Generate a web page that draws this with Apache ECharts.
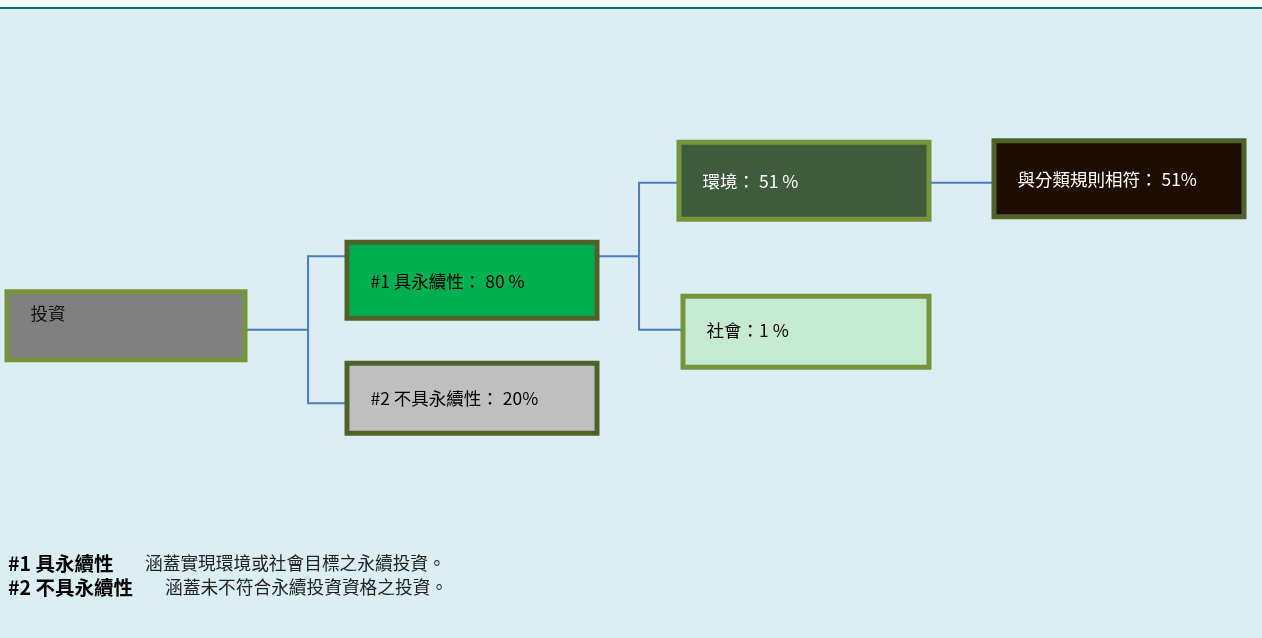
<!DOCTYPE html>
<html>
<head>
<meta charset="utf-8">
<script src="https://cdn.jsdelivr.net/npm/echarts@6/dist/echarts.min.js"></script>
<style>
html,body{margin:0;padding:0;background:#ffffff;}
#chart{width:1262px;height:638px;}
</style>
</head>
<body>
<div id="chart"></div>
<script>
// ---- data ----
const nodeNames = ['投資', '#1 具永續性', '#2 不具永續性', '環境', '社會', '與分類規則相符'];
const nodeShares = [null, 80, 20, 51, 1, 51];
const nodeParents = [-1, 0, 0, 1, 1, 3];
const noteTitles = ['#1 具永續性', '#2 不具永續性'];
const noteTexts = ['涵蓋實現環境或社會目標之永續投資。', '涵蓋未不符合永續投資資格之投資。'];

// ---- styles (per node, by index) ----
const FONT = '"Noto Sans CJK TC", "Noto Sans CJK SC", sans-serif';
const nodeStyles = [
  {fill: '#808080', border: '#77933c', text: '#111111', size: [233, 63], offset: [0, -4], pad: [0, 24], fmt: '{n}'},
  {fill: '#00b050', border: '#4f6228', text: '#000000', size: [245, 71], offset: [15, 24], pad: [2, 0], fmt: '{n}： {v} %'},
  {fill: '#bfbfbf', border: '#4f6228', text: '#000000', size: [245, 65], offset: [15, -5], pad: [0, 0], fmt: '{n}： {v}%'},
  {fill: '#3e5b3b', border: '#77933c', text: '#ffffff', size: [245, 72], offset: [16, -2], pad: [0, 0], fmt: '{n}： {v} %'},
  {fill: '#c6e9d1', border: '#77933c', text: '#000000', size: [241, 66], offset: [18, 2], pad: [0, 2], fmt: '{n}：{v} %'},
  {fill: '#1f0e00', border: '#4f6228', text: '#ffffff', size: [245, 71], offset: [0, -4], pad: [0, 0], fmt: '{n}： {v}%'}
];

function labelText(i) {
  return nodeStyles[i].fmt.replace('{n}', nodeNames[i]).replace('{v}', nodeShares[i]);
}

function buildNode(i) {
  const s = nodeStyles[i];
  const children = [];
  nodeParents.forEach(function (p, j) { if (p === i) children.push(buildNode(j)); });
  const innerH = s.size[1] - s.pad[0] - s.pad[1];
  return {
    name: nodeNames[i],
    value: nodeShares[i],
    symbol: 'rect',
    symbolSize: s.size,
    symbolOffset: s.offset,
    itemStyle: {color: s.fill, borderWidth: 0},
    label: {
      show: true,
      position: 'inside',
      formatter: '{box|' + labelText(i) + '}',
      rich: {
        box: {
          width: s.size[0] - 21,
          height: innerH,
          lineHeight: innerH,
          padding: [s.pad[0], 0, s.pad[1], 21],
          align: 'left',
          backgroundColor: s.fill,
          borderColor: s.border,
          borderWidth: 5,
          color: s.text,
          fontSize: 17.5,
          fontFamily: FONT
        }
      }
    },
    children: children
  };
}

const chart = echarts.init(document.getElementById('chart'), null, {renderer: 'canvas'});

const noteGraphics = noteTitles.map(function (t, k) {
  return {
    type: 'text',
    left: 8,
    top: 554 + k * 24,
    style: {
      text: '{b|' + t + '}{n|' + noteTexts[k] + '}',
      rich: {
        b: {fontSize: 19.5, fontWeight: 'bold', fontFamily: FONT, fill: '#000000', width: k === 0 ? 137 : 157},
        n: {fontSize: 17.7, fontFamily: FONT, fill: '#222222'}
      }
    }
  };
});

chart.setOption({
  backgroundColor: '#daeef3',
  animation: false,
  graphic: [
    {type: 'rect', left: 0, top: 0, shape: {width: 1262, height: 7}, style: {fill: '#ffffff'}, silent: true},
    {type: 'rect', left: 0, top: 7, shape: {width: 1262, height: 2}, style: {fill: '#0f6d78'}, silent: true}
  ].concat(noteGraphics),
  series: [{
    type: 'tree',
    orient: 'LR',
    layout: 'orthogonal',
    edgeShape: 'polyline',
    edgeForkPosition: '55%',
    left: 126,
    right: 143,
    top: 36,
    bottom: 88,
    roam: false,
    expandAndCollapse: false,
    initialTreeDepth: -1,
    animation: false,
    emphasis: {disabled: true},
    lineStyle: {color: '#4a7ebb', width: 2, curveness: 0},
    data: [buildNode(0)]
  }]
});
</script>
</body>
</html>
